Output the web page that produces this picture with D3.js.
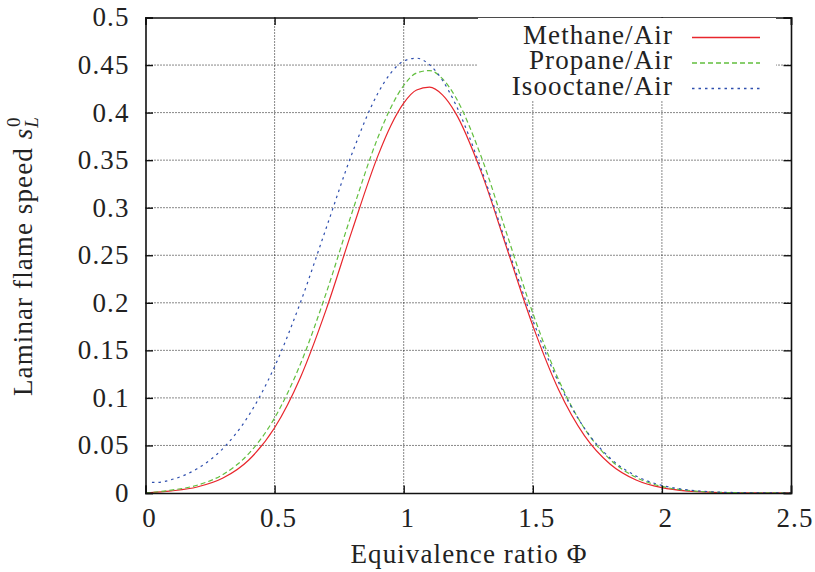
<!DOCTYPE html>
<html>
<head>
<meta charset="utf-8">
<script src="https://cdn.jsdelivr.net/npm/d3@7"></script>
<style>
  body { margin: 0; background: #fff; }
  text { font-family: "Liberation Serif", "Times New Roman", serif; fill: #222; letter-spacing: 1.1px; }
</style>
</head>
<body>
<div id="chart"></div>
<script>
// data
var phi = [0, 0.1, 0.2, 0.3, 0.4, 0.5, 0.6, 0.7, 0.8, 0.9, 0.95, 1.0, 1.05, 1.1, 1.15, 1.2,
           1.3, 1.4, 1.5, 1.6, 1.7, 1.8, 1.9, 2.0, 2.1, 2.2, 2.3, 2.4, 2.5];
var methane = [0, 0.0022, 0.0063, 0.0157, 0.0347, 0.0686, 0.1215, 0.1931, 0.2759, 0.3545, 0.3862,
               0.4099, 0.4237, 0.4267, 0.4186, 0.4000, 0.3377, 0.2569, 0.1760, 0.1086, 0.0604,
               0.0303, 0.0137, 0.0056, 0.0020, 0.0007, 0.0002, 0.0001, 0.0000];
var propane = [0, 0.0030, 0.0082, 0.0195, 0.0414, 0.0789, 0.1356, 0.2104, 0.2950, 0.3738, 0.4052,
               0.4285, 0.4417, 0.4442, 0.4357, 0.4167, 0.3539, 0.2719, 0.1892, 0.1191, 0.0679,
               0.0351, 0.0164, 0.0069, 0.0027, 0.0009, 0.0003, 0.0001, 0.0000];
var phiIso = [0.025, 0.05, 0.1, 0.2, 0.3, 0.4, 0.5, 0.6, 0.7, 0.8, 0.9, 0.95, 1.0, 1.05, 1.1, 1.15, 1.2,
              1.3, 1.4, 1.5, 1.6, 1.7, 1.8, 1.9, 2.0, 2.1, 2.2, 2.3, 2.4, 2.5];
var isooctane = [0.0111, 0.0112, 0.0140, 0.0255, 0.0468, 0.0816, 0.1328, 0.2003, 0.2787, 0.3570,
                 0.4203, 0.4416, 0.4542, 0.4572, 0.4503, 0.4340, 0.4093, 0.3408, 0.2601, 0.1817,
                 0.1163, 0.0681, 0.0365, 0.0179, 0.0080, 0.0033, 0.0012, 0.0004, 0.0001, 0.0000];

var xTicks = [0, 0.5, 1, 1.5, 2, 2.5];
var yTicks = [0, 0.05, 0.1, 0.15, 0.2, 0.25, 0.3, 0.35, 0.4, 0.45, 0.5];
var seriesNames = ["Methane/Air", "Propane/Air", "Isooctane/Air"];

// set parameters
var svgWidth = 815;
var svgHeight = 572;

var margin = {
    top: 17.5,
    right: 24,
    bottom: 79,
    left: 145.5
};

var width = svgWidth - margin.left - margin.right;
var height = svgHeight - margin.top - margin.bottom;

var svg = d3.select("#chart")
    .append("svg")
    .attr("width", svgWidth)
    .attr("height", svgHeight);

var chartGroup = svg.append("g")
    .attr("transform", `translate(${margin.left}, ${margin.top})`);

// scales
var xScale = d3.scaleLinear().domain([0, 2.5]).range([0, width]);
var yScale = d3.scaleLinear().domain([0, 0.5]).range([height, 0]);

// grid (dotted)
chartGroup.append("g")
    .selectAll("line")
    .data(xTicks.slice(1, -1))
    .enter()
    .append("line")
    .attr("x1", d => xScale(d))
    .attr("x2", d => xScale(d))
    .attr("y1", 0)
    .attr("y2", height)
    .attr("stroke", "#111")
    .attr("stroke-width", 1)
    .attr("stroke-dasharray", "1,2");

chartGroup.append("g")
    .selectAll("line")
    .data(yTicks.slice(1, -1))
    .enter()
    .append("line")
    .attr("x1", 0)
    .attr("x2", width)
    .attr("y1", d => yScale(d))
    .attr("y2", d => yScale(d))
    .attr("stroke", "#111")
    .attr("stroke-width", 1)
    .attr("stroke-dasharray", "1,2");

// legend background hides the grid
var legendBox = { x0: 478, x1: 776, y0: 18, y1: 101 };
svg.append("rect")
    .attr("x", legendBox.x0)
    .attr("y", legendBox.y0)
    .attr("width", legendBox.x1 - legendBox.x0)
    .attr("height", legendBox.y1 - legendBox.y0)
    .attr("fill", "#fff");

// curves
var colors = ["#e8262c", "#62bf3e", "#2f4fae"];
var dashes = ["none", "5,3", "2.5,4"];
var series = [
    phi.map((p, i) => [p, methane[i]]),
    phi.map((p, i) => [p, propane[i]]),
    phiIso.map((p, i) => [p, isooctane[i]])
];

var line = d3.line()
    .x(d => xScale(d[0]))
    .y(d => yScale(d[1]))
    .curve(d3.curveMonotoneX);

chartGroup.selectAll(".curve")
    .data(series)
    .enter()
    .append("path")
    .attr("class", "curve")
    .attr("d", line)
    .style("fill", "none")
    .style("stroke", (d, i) => colors[i])
    .style("stroke-width", 1.2)
    .style("stroke-dasharray", (d, i) => dashes[i]);

// border and inward ticks on all four sides
var tickLen = 7.5;
var bottomAxis = d3.axisBottom(xScale).tickValues(xTicks).tickSize(-tickLen).tickFormat("");
var topAxis = d3.axisTop(xScale).tickValues(xTicks).tickSize(-tickLen).tickFormat("");
var leftAxis = d3.axisLeft(yScale).tickValues(yTicks).tickSize(-tickLen).tickFormat("");
var rightAxis = d3.axisRight(yScale).tickValues(yTicks).tickSize(-tickLen).tickFormat("");

chartGroup.append("g").attr("transform", `translate(0, ${height})`).call(bottomAxis);
chartGroup.append("g").call(topAxis);
chartGroup.append("g").call(leftAxis);
chartGroup.append("g").attr("transform", `translate(${width}, 0)`).call(rightAxis);

chartGroup.selectAll(".domain")
    .attr("stroke", "#111")
    .attr("stroke-width", 1.6);
chartGroup.selectAll(".tick line")
    .attr("stroke", "#111")
    .attr("stroke-width", 1.4);

// tick labels
chartGroup.append("g")
    .selectAll("text")
    .data(xTicks)
    .enter()
    .append("text")
    .attr("x", d => xScale(d) + 4)
    .attr("y", height + 34)
    .attr("text-anchor", "middle")
    .style("font-size", "27px")
    .text(d => d);

chartGroup.append("g")
    .selectAll("text")
    .data(yTicks)
    .enter()
    .append("text")
    .attr("x", -16)
    .attr("y", d => yScale(d))
    .attr("dy", "0.33em")
    .attr("text-anchor", "end")
    .style("font-size", "27px")
    .text(d => d);

// legend
var legend = svg.append("g");
var sample = d3.line();
seriesNames.forEach(function(name, i) {
    var ly = 37.5 + i * 25.5;
    legend.append("text")
        .attr("x", 673)
        .attr("y", ly + 6)
        .attr("text-anchor", "end")
        .style("font-size", "27px")
        .text(name);
    legend.append("path")
        .attr("d", sample([[692, ly], [760, ly]]))
        .style("fill", "none")
        .style("stroke", colors[i])
        .style("stroke-width", 1.3)
        .style("stroke-dasharray", dashes[i]);
});

// axes labels
svg.append("text")
    .attr("x", 469)
    .attr("y", 563)
    .attr("text-anchor", "middle")
    .style("font-size", "27px")
    .text("Equivalence ratio Φ");

var yLabel = svg.append("text")
    .attr("transform", "translate(32, 256) rotate(-90)")
    .attr("text-anchor", "middle")
    .style("font-size", "27px");
yLabel.append("tspan").text("Laminar flame speed ");
yLabel.append("tspan").style("font-style", "italic").text("s");
yLabel.append("tspan").attr("dy", 6).style("font-style", "italic").style("font-size", "19px").text("L");
yLabel.append("tspan").attr("dx", -11).attr("dy", -18).style("font-size", "19px").text("0");
</script>
</body>
</html>
